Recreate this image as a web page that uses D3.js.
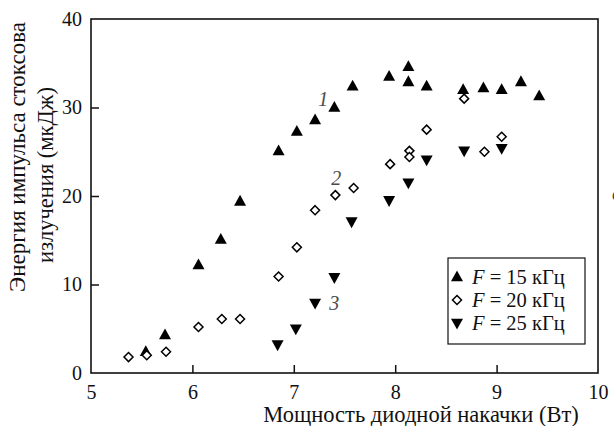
<!DOCTYPE html>
<meta charset="utf-8">
<head>
<style>
  body { margin: 0; background: white; }
  svg { display: block; }
  text { font-family: "Liberation Serif", "DejaVu Serif", serif; fill: #111; }
  .axis path { display: none; }
  .axis line { stroke: #111; stroke-width: 1.5; }
  .axis text { font-size: 20px; font-family: "Liberation Serif", "DejaVu Serif", serif; }
</style>
<script src="https://cdn.jsdelivr.net/npm/d3@7"></script>
</head>
<body>
<svg id="chart"></svg>
<script>
// power of diode pump (W) and Stokes pulse energy (uJ)
let x15 = [5.54, 5.73, 6.06, 6.28, 6.47, 6.85, 7.03, 7.21, 7.40, 7.58, 7.94, 8.13, 8.13, 8.31, 8.67, 8.87, 9.05, 9.24, 9.42]
let y15 = [2.4, 4.3, 12.2, 15.1, 19.4, 25.1, 27.3, 28.6, 30.0, 32.4, 33.5, 34.6, 32.9, 32.4, 32.0, 32.2, 32.0, 32.9, 31.3]

let x20 = [5.37, 5.55, 5.74, 6.06, 6.29, 6.47, 6.85, 7.03, 7.21, 7.41, 7.59, 7.95, 8.14, 8.14, 8.31, 8.68, 8.88, 9.05]
let y20 = [1.8, 2.0, 2.4, 5.2, 6.1, 6.1, 10.9, 14.2, 18.4, 20.1, 20.9, 23.6, 25.1, 24.4, 27.5, 31.0, 25.0, 26.7]

let x25 = [6.84, 7.02, 7.21, 7.40, 7.57, 7.94, 8.13, 8.31, 8.68, 9.05]
let y25 = [3.2, 5.0, 7.9, 10.8, 17.1, 19.5, 21.5, 24.1, 25.1, 25.4]

let xTicks = [5, 6, 7, 8, 9, 10]
let yTicks = [0, 10, 20, 30, 40]
let legendLabels = ["15 кГц", "20 кГц", "25 кГц"]
let curveLabels = [{t: "1", x: 7.24, y: 30.2}, {t: "2", x: 7.37, y: 21.2}, {t: "3", x: 7.35, y: 7.1}]

let width = 614, height = 426
let margin = {top: 19, right: 16, bottom: 53, left: 91}

let svg = d3.select("#chart").attr("width", width).attr("height", height)

let xScale = d3.scaleLinear().domain([5, 10]).range([margin.left, width - margin.right])
let yScale = d3.scaleLinear().domain([0, 40]).range([height - margin.bottom, margin.top])

// markers
function upTri(s) { let h = s * 0.9; return `M0,${-h*0.6}L${s/2},${h*0.4}L${-s/2},${h*0.4}Z` }
function downTri(s) { let h = s * 0.9; return `M0,${h*0.6}L${s/2},${-h*0.4}L${-s/2},${-h*0.4}Z` }
function diamond(s) { let r = s / 2; return `M0,${-r}L${r},0L0,${r}L${-r},0Z` }

let series = [
  {xs: x15, ys: y15, path: upTri(12), fill: "#000", stroke: "none"},
  {xs: x20, ys: y20, path: diamond(9), fill: "#fff", stroke: "#000"},
  {xs: x25, ys: y25, path: downTri(12), fill: "#000", stroke: "none"}
]

// axes with inward ticks
let xAxis = svg.append("g").attr("class", "axis")
  .attr("transform", `translate(0,${yScale(0)})`)
  .call(d3.axisBottom(xScale).tickValues(xTicks).tickSize(-8).tickPadding(12).tickFormat(d3.format("d")))
xAxis.attr("font-size", null).attr("font-family", null)
xAxis.selectAll("line").filter(d => d == 5 || d == 10).remove()

let yAxis = svg.append("g").attr("class", "axis")
  .attr("transform", `translate(${xScale(5)},0)`)
  .call(d3.axisLeft(yScale).tickValues(yTicks).tickSize(-8).tickPadding(9).tickFormat(d3.format("d")))
yAxis.attr("font-size", null).attr("font-family", null)
yAxis.selectAll("line").filter(d => d == 0 || d == 40).remove()

svg.append("rect")
  .attr("x", xScale(5)).attr("y", yScale(40))
  .attr("width", xScale(10) - xScale(5)).attr("height", yScale(0) - yScale(40))
  .attr("fill", "none").attr("stroke", "#111").attr("stroke-width", 1.6)

series.forEach(s => {
  svg.append("g").selectAll("path")
    .data(s.xs.map((d, i) => [d, s.ys[i]]))
    .enter().append("path")
    .attr("transform", d => `translate(${xScale(d[0])},${yScale(d[1])})`)
    .attr("d", s.path)
    .attr("fill", s.fill)
    .attr("stroke", s.stroke)
    .attr("stroke-width", 1.5)
})

svg.selectAll(".clabel")
  .data(curveLabels)
  .enter().append("text")
  .attr("x", d => xScale(d.x)).attr("y", d => yScale(d.y))
  .style("font-size", "20px").style("font-style", "italic").style("fill", "#4a4a4a")
  .text(d => d.t)

// legend
let lg = svg.append("g").attr("transform", "translate(448,258)")
lg.append("rect").attr("width", 137).attr("height", 86)
  .attr("fill", "#fff").attr("stroke", "#111").attr("stroke-width", 1.2)
legendLabels.forEach((l, i) => {
  let row = lg.append("g").attr("transform", `translate(0,${19 + i * 23})`)
  row.append("path").attr("transform", "translate(9,0)")
    .attr("d", series[i].path).attr("fill", series[i].fill)
    .attr("stroke", series[i].stroke).attr("stroke-width", 1.5)
  let t = row.append("text").attr("x", 24).attr("y", 7).style("font-size", "20.5px")
  t.append("tspan").style("font-style", "italic").text("F")
  t.append("tspan").text(" = " + l)
})

// axis titles
svg.append("text")
  .attr("x", 421).attr("y", 422).attr("text-anchor", "middle")
  .style("font-size", "22.5px")
  .text("Мощность диодной накачки (Вт)")

svg.append("text")
  .attr("transform", "translate(25,157) rotate(-90)").attr("text-anchor", "middle")
  .style("font-size", "23px")
  .text("Энергия импульса стоксова")
svg.append("text")
  .attr("transform", "translate(53,175) rotate(-90)").attr("text-anchor", "middle")
  .style("font-size", "22.5px")
  .text("излучения (мкДж)")

// clipped panel letter at the right edge
svg.append("text").attr("x", 612).attr("y", 200)
  .style("font-size", "20px").style("font-style", "italic").style("fill", "#444")
  .text("а")
</script>
</body>
